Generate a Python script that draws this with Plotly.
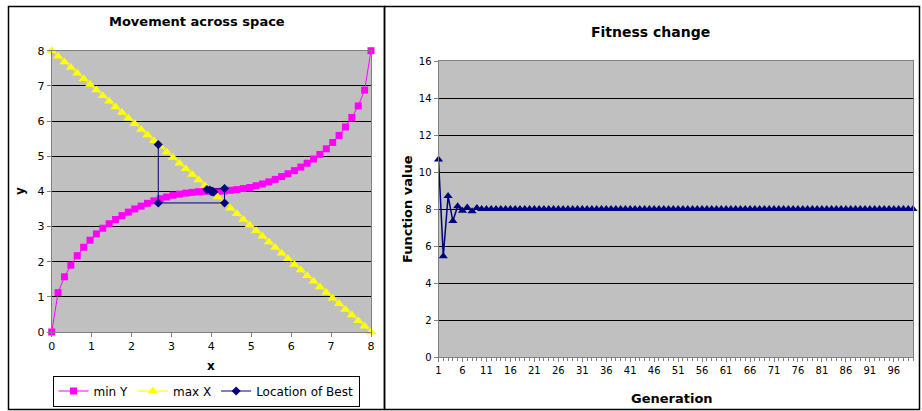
import plotly.graph_objects as go

# ---------------- data ----------------
grid_x = [0.0, 0.16, 0.32, 0.48, 0.64, 0.8, 0.96, 1.12, 1.28, 1.44, 1.6, 1.76, 1.92,
          2.08, 2.24, 2.4, 2.56, 2.72, 2.88, 3.04, 3.2, 3.36, 3.52, 3.68, 3.84, 4.0,
          4.16, 4.32, 4.48, 4.64, 4.8, 4.96, 5.12, 5.28, 5.44, 5.6, 5.76, 5.92, 6.08,
          6.24, 6.4, 6.56, 6.72, 6.88, 7.04, 7.2, 7.36, 7.52, 7.68, 7.84, 8.0]

min_y = [0.00, 1.12, 1.57, 1.90, 2.17, 2.41, 2.61, 2.79, 2.95, 3.08, 3.20, 3.31, 3.41,
         3.50, 3.58, 3.66, 3.73, 3.79, 3.84, 3.89, 3.92, 3.95, 3.97, 3.99, 4.00, 4.00,
         4.00, 4.01, 4.03, 4.05, 4.08, 4.11, 4.16, 4.21, 4.27, 4.34, 4.42, 4.50, 4.59,
         4.69, 4.80, 4.92, 5.05, 5.21, 5.39, 5.59, 5.83, 6.10, 6.43, 6.88, 8.00]

max_x = [8.0, 7.84, 7.68, 7.52, 7.36, 7.2, 7.04, 6.88, 6.72, 6.56, 6.4, 6.24, 6.08,
         5.92, 5.76, 5.6, 5.44, 5.28, 5.12, 4.96, 4.8, 4.64, 4.48, 4.32, 4.16, 4.0,
         3.84, 3.68, 3.52, 3.36, 3.2, 3.04, 2.88, 2.72, 2.56, 2.4, 2.24, 2.08, 1.92,
         1.76, 1.6, 1.44, 1.28, 1.12, 0.96, 0.8, 0.64, 0.48, 0.32, 0.16, 0.0]

best_x = [2.67, 2.67, 4.33, 4.33, 3.89, 4.06, 3.96, 4.03, 4.00, 4.00]
best_y = [5.33, 3.67, 3.67, 4.08, 4.05, 3.98, 4.04, 4.00, 4.00, 4.00]

generation = list(range(1, 101))
fitness = [10.67, 5.45, 8.70, 7.35, 8.15, 7.90, 8.08, 7.88, 8.05, 8.00,
           8.00, 8.00, 8.00, 8.00, 8.00, 8.00, 8.00, 8.00, 8.00, 8.00,
           8.00, 8.00, 8.00, 8.00, 8.00, 8.00, 8.00, 8.00, 8.00, 8.00,
           8.00, 8.00, 8.00, 8.00, 8.00, 8.00, 8.00, 8.00, 8.00, 8.00,
           8.00, 8.00, 8.00, 8.00, 8.00, 8.00, 8.00, 8.00, 8.00, 8.00,
           8.00, 8.00, 8.00, 8.00, 8.00, 8.00, 8.00, 8.00, 8.00, 8.00,
           8.00, 8.00, 8.00, 8.00, 8.00, 8.00, 8.00, 8.00, 8.00, 8.00,
           8.00, 8.00, 8.00, 8.00, 8.00, 8.00, 8.00, 8.00, 8.00, 8.00,
           8.00, 8.00, 8.00, 8.00, 8.00, 8.00, 8.00, 8.00, 8.00, 8.00,
           8.00, 8.00, 8.00, 8.00, 8.00, 8.00, 8.00, 8.00, 8.00, 8.00]
gen_ticks = [1, 6, 11, 16, 21, 26, 31, 36, 41, 46, 51, 56, 61, 66, 71, 76, 81, 86, 91, 96]

# ---------------- figure ----------------
W, H = 922, 411
FONT = "DejaVu Sans"

def px(x):
    return x / W

def py(y):
    return 1 - y / H

fig = go.Figure()

fig.add_trace(go.Scatter(x=grid_x, y=min_y, name="min Y", mode="lines+markers",
                         line=dict(color="#FF00FF", width=1), cliponaxis=False,
                         marker=dict(symbol="square", size=7, color="#FF00FF"),
                         xaxis="x", yaxis="y"))
fig.add_trace(go.Scatter(x=grid_x, y=max_x, name="max X", mode="lines+markers",
                         line=dict(color="#FFFF00", width=1), cliponaxis=False,
                         marker=dict(symbol="triangle-up", size=9, color="#FFFF00"),
                         xaxis="x", yaxis="y"))
fig.add_trace(go.Scatter(x=best_x, y=best_y, name="Location of Best", mode="lines+markers",
                         line=dict(color="#000080", width=1), cliponaxis=False,
                         marker=dict(symbol="diamond", size=7, color="#000080"),
                         xaxis="x", yaxis="y"))
fig.add_trace(go.Scatter(x=generation, y=fitness, name="Fitness", mode="lines+markers",
                         showlegend=False, cliponaxis=False,
                         line=dict(color="#000080", width=1.5),
                         marker=dict(symbol="triangle-up", size=8, color="#000080"),
                         xaxis="x2", yaxis="y2"))

axis_common = dict(showline=True, linecolor="#808080", linewidth=1, mirror=True,
                   zeroline=False, ticks="outside", ticklen=4, tickcolor="#808080",
                   automargin=False,
                   tickfont=dict(family=FONT, size=11, color="black"))

fig.update_layout(
    template="none",
    width=W, height=H, margin=dict(l=0, r=0, t=0, b=0, pad=0, autoexpand=False),
    paper_bgcolor="white", plot_bgcolor="#C0C0C0",
    font=dict(family=FONT, color="black"),
    xaxis=dict(domain=[px(51.7), px(371)], range=[0, 8], tickvals=[0, 1, 2, 3, 4, 5, 6, 7, 8],
               showgrid=False, anchor="y", **axis_common),
    yaxis=dict(domain=[py(332), py(50.7)], range=[0, 8], tickvals=[0, 1, 2, 3, 4, 5, 6, 7, 8],
               showgrid=True, gridcolor="#000000", gridwidth=1, anchor="x", **axis_common),
    xaxis2=dict(domain=[px(438.5), px(913)], range=[1, 100], tickvals=gen_ticks,
                showgrid=False, anchor="y2",
                minor=dict(ticks="outside", dtick=1, tick0=1, ticklen=3, tickcolor="#808080",
                           showgrid=False),
                **{**axis_common, "tickfont": dict(family=FONT, size=10, color="black")}),
    yaxis2=dict(domain=[py(357), py(61)], range=[0, 16], tickvals=[0, 2, 4, 6, 8, 10, 12, 14, 16],
                showgrid=True, gridcolor="#000000", gridwidth=1, anchor="x2",
                **{**axis_common, "tickfont": dict(family=FONT, size=10, color="black")}),
    legend=dict(orientation="h", x=px(206), xanchor="center", y=py(391), yanchor="middle",
                bordercolor="#000000", borderwidth=1, bgcolor="white",
                font=dict(family=FONT, size=12, color="black"),
                itemwidth=30, tracegroupgap=0),
    showlegend=True,
)

annotations = [
    dict(text="<b>Movement across space</b>", x=px(197), y=py(21), font=dict(size=13)),
    dict(text="<b>y</b>", x=px(20), y=py(191), font=dict(size=12), textangle=-90),
    dict(text="<b>x</b>", x=px(211), y=py(366), font=dict(size=12)),
    dict(text="<b>Fitness change</b>", x=px(650), y=py(32), font=dict(size=14)),
    dict(text="<b>Function value</b>", x=px(407), y=py(209), font=dict(size=13), textangle=-90),
    dict(text="<b>Generation</b>", x=px(672), y=py(398), font=dict(size=13)),
]
for a in annotations:
    a.update(xref="paper", yref="paper", showarrow=False, xanchor="center", yanchor="middle")
    a["font"]["family"] = FONT
    a["font"]["color"] = "black"
fig.update_layout(annotations=annotations)

shapes = [
    dict(type="rect", x0=px(8.5), x1=px(384.5), y0=py(409.5), y1=py(6.5)),
    dict(type="rect", x0=px(384.5), x1=px(919.5), y0=py(409.5), y1=py(6.5)),
]
for s in shapes:
    s.update(xref="paper", yref="paper", line=dict(color="black", width=1.5), layer="above")
fig.update_layout(shapes=shapes)

fig.write_html("out.html")
